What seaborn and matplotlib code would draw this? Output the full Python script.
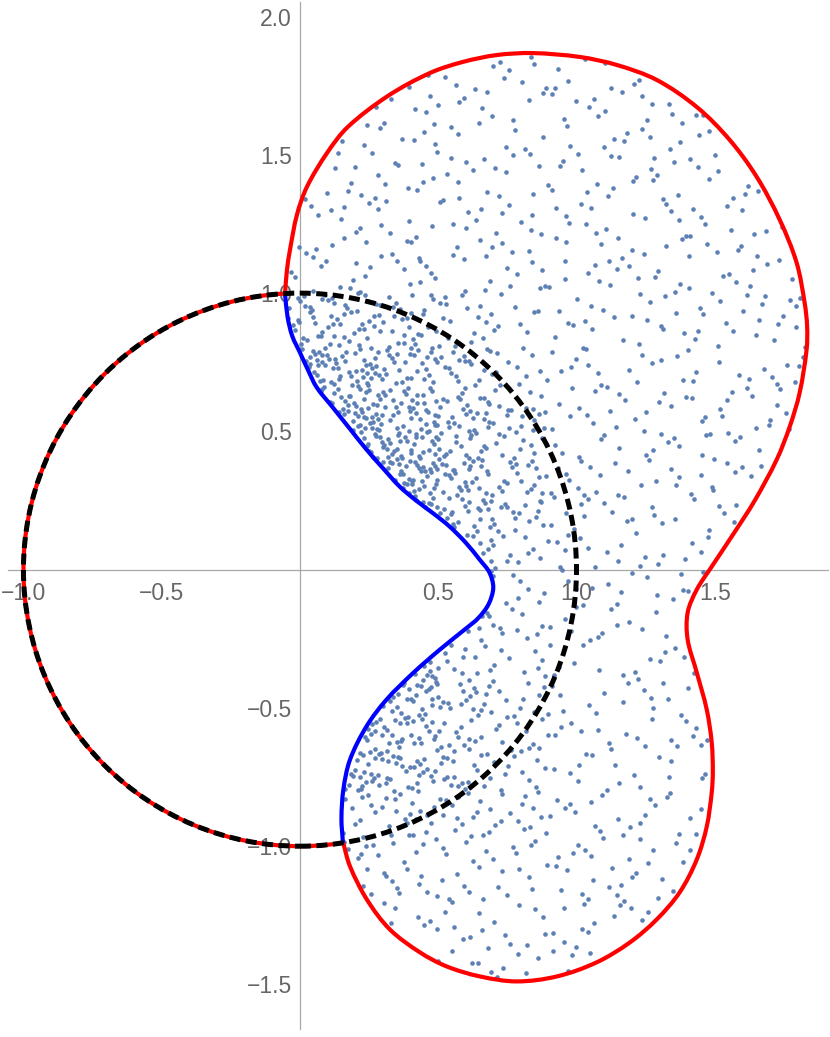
import numpy as np
import pandas as pd
import matplotlib
matplotlib.use("Agg")
import matplotlib.pyplot as plt
from matplotlib.patches import Circle, Arc, PathPatch
from matplotlib.path import Path
from matplotlib.ticker import FixedLocator, FixedFormatter, MultipleLocator
import seaborn as sns

# ---------------- data ----------------
# outer (red) boundary, from the top junction clockwise to the bottom junction
RED_X = [-0.054, -0.047, -0.036, -0.011, 0.025, 0.098, 0.173, 0.318, 0.470, 0.589,
         0.712, 0.842, 1.012, 1.146, 1.290, 1.435, 1.554, 1.652, 1.735, 1.796,
         1.825, 1.834, 1.832, 1.807, 1.771, 1.724, 1.644, 1.568, 1.489, 1.435,
         1.402, 1.402, 1.435, 1.471, 1.489, 1.493, 1.489, 1.471, 1.435, 1.373,
         1.290, 1.193, 1.073, 0.929, 0.784, 0.651, 0.531, 0.434, 0.325, 0.242,
         0.181, 0.155]
RED_Y = [0.998, 1.084, 1.157, 1.283, 1.384, 1.507, 1.601, 1.713, 1.796, 1.836,
         1.861, 1.868, 1.854, 1.825, 1.771, 1.673, 1.554, 1.420, 1.265, 1.110,
         0.965, 0.880, 0.795, 0.640, 0.517, 0.398, 0.249, 0.130, 0.011, -0.072,
         -0.155, -0.253, -0.372, -0.506, -0.625, -0.730, -0.806, -0.929, -1.048, -1.167,
         -1.265, -1.348, -1.420, -1.471, -1.489, -1.471, -1.435, -1.384, -1.301, -1.193,
         -1.073, -0.983]

# inner (blue) boundary, from the top junction down to the bottom junction
BLUE_X = [-0.054, -0.045, -0.028, 0.000, 0.030, 0.060, 0.120, 0.180, 0.240, 0.300,
          0.360, 0.420, 0.480, 0.540, 0.600, 0.650, 0.685, 0.699, 0.682, 0.645,
          0.600, 0.506, 0.410, 0.313, 0.241, 0.181, 0.157, 0.150, 0.155]
BLUE_Y = [0.998, 0.915, 0.845, 0.785, 0.720, 0.660, 0.585, 0.510, 0.435, 0.367,
          0.301, 0.250, 0.205, 0.157, 0.097, 0.036, -0.010, -0.065, -0.125, -0.175,
          -0.213, -0.289, -0.373, -0.470, -0.566, -0.687, -0.795, -0.900, -0.983]

# unit circle; the part from the top to the bottom junction (through the left) is red
CIRCLE_RADIUS = 1.0
ARC_START_DEG = 93.1
ARC_END_DEG = 279.0

# density of the sample points (points per unit area), 0.2 x 0.2 cells
DENS_X_EDGES = [-0.1, 0.1, 0.3, 0.5, 0.7, 0.9, 1.1, 1.3, 1.5, 1.7, 1.9]
DENS_Y_EDGES = [2.0, 1.8, 1.6, 1.4, 1.2, 1.0, 0.8, 0.6, 0.4, 0.2, 0.0,
                -0.2, -0.4, -0.6, -0.8, -1.0, -1.2, -1.4, -1.6]
DENSITY = [
    [220, 220, 220, 220, 220, 220, 220, 220, 220, 220],
    [220, 220, 220, 220, 220, 220, 220, 220, 220, 220],
    [230, 230, 220, 220, 220, 220, 220, 220, 220, 220],
    [250, 250, 240, 230, 230, 220, 220, 220, 220, 220],
    [290, 290, 280, 270, 240, 230, 230, 220, 220, 220],
    [900, 850, 700, 360, 260, 240, 230, 230, 230, 230],
    [1800, 1300, 950, 680, 320, 240, 230, 230, 230, 230],
    [2000, 2000, 1400, 950, 650, 260, 230, 230, 230, 230],
    [1900, 1900, 1700, 1100, 750, 350, 220, 220, 220, 220],
    [1600, 1600, 1600, 850, 450, 250, 210, 210, 210, 210],
    [550, 550, 550, 550, 280, 220, 190, 190, 190, 190],
    [1100, 1100, 1100, 480, 300, 210, 190, 190, 190, 190],
    [1400, 1400, 1050, 650, 400, 220, 200, 200, 200, 200],
    [1200, 1200, 900, 600, 420, 240, 210, 210, 210, 210],
    [550, 550, 500, 450, 380, 260, 230, 230, 230, 230],
    [300, 300, 290, 270, 260, 250, 240, 230, 230, 230],
    [240, 240, 240, 240, 240, 240, 230, 230, 230, 230],
    [220, 220, 220, 220, 220, 220, 220, 220, 220, 220],
]

XTICKS = [-1.0, -0.5, 0.5, 1.0, 1.5]
XTICK_LABELS = ["\u22121.0", "\u22120.5", "0.5", "1.0", "1.5"]
YTICKS = [-1.5, -1.0, -0.5, 0.5, 1.0, 1.5, 2.0]
YTICK_LABELS = ["\u22121.5", "\u22121.0", "\u22120.5", "0.5", "1.0", "1.5", "2.0"]

# ---------------- sample cloud: quasi-uniform (Halton) placement following DENSITY ----------------
def van_der_corput(n, base):
    k = np.arange(1, n + 1)
    out = np.zeros(n)
    f = 1.0 / base
    while np.any(k > 0):
        out += f * (k % base)
        k //= base
        f /= base
    return out

dens = np.array(DENSITY, dtype=float)
xe = np.array(DENS_X_EDGES)
ye = np.array(DENS_Y_EDGES)
dmax = dens.max()
n_cand = int(round(dmax * (xe[-1] - xe[0]) * (ye[0] - ye[-1])))
hx = van_der_corput(n_cand, 2)
hy = van_der_corput(n_cand, 3)
hu = van_der_corput(n_cand, 5)
px = xe[0] + hx * (xe[-1] - xe[0])
py = ye[-1] + hy * (ye[0] - ye[-1])
ci = np.clip(np.searchsorted(xe, px) - 1, 0, len(xe) - 2)
ri = np.clip(np.searchsorted(-ye, -py) - 1, 0, len(ye) - 2)
keep = hu < dens[ri, ci] / dmax
region = Path(np.column_stack([RED_X + BLUE_X[::-1][1:], RED_Y + BLUE_Y[::-1][1:]]))
keep &= region.contains_points(np.column_stack([px, py]))
pts = pd.DataFrame({"x": px[keep], "y": py[keep]})


def smooth_path(xs, ys):
    """Smooth cubic Bezier path through the read points (chord-length tangents)."""
    P = np.column_stack([xs, ys]).astype(float)
    n = len(P)
    d = np.linalg.norm(np.diff(P, axis=0), axis=1)
    m = np.zeros_like(P)
    m[0] = (P[1] - P[0]) / d[0]
    m[-1] = (P[-1] - P[-2]) / d[-1]
    for i in range(1, n - 1):
        m[i] = (P[i + 1] - P[i - 1]) / (d[i - 1] + d[i])
    verts = [P[0]]
    codes = [Path.MOVETO]
    for i in range(n - 1):
        verts += [P[i] + m[i] * d[i] / 3.0, P[i + 1] - m[i + 1] * d[i] / 3.0, P[i + 1]]
        codes += [Path.CURVE4] * 3
    return Path(verts, codes)


# ---------------- figure ----------------
sns.set_style("white")
plt.rcParams["font.family"] = ["Liberation Sans", "DejaVu Sans"]

fig = plt.figure(figsize=(8.30, 10.37), dpi=100)
ax = fig.add_axes([0, 0, 1, 1])
ax.set_facecolor("white")

sns.scatterplot(data=pts, x="x", y="y", ax=ax, s=11, color="#5E81B5",
                linewidth=0, zorder=2, legend=False)

ax.add_patch(PathPatch(smooth_path(RED_X, RED_Y), fill=False, edgecolor="#FF0000",
                       linewidth=3.0, capstyle="round", joinstyle="round", zorder=3))
ax.add_patch(PathPatch(smooth_path(BLUE_X, BLUE_Y), fill=False, edgecolor="#0000FF",
                       linewidth=3.0, capstyle="round", joinstyle="round", zorder=3))
ax.add_patch(Arc((0, 0), 2 * CIRCLE_RADIUS, 2 * CIRCLE_RADIUS, theta1=ARC_START_DEG,
                 theta2=ARC_END_DEG, color="#FF0000", linewidth=3.0, zorder=3))
ax.add_patch(Circle((0, 0), CIRCLE_RADIUS, fill=False, edgecolor="black",
                    linewidth=3.6, linestyle=(0, (2.2, 1.1)), capstyle="butt", zorder=4))

ax.set_xlim(-1.084, 1.916)
ax.set_ylim(-1.69, 2.06)
ax.set_aspect("equal", adjustable="box")
ax.set_xlabel("")
ax.set_ylabel("")

axis_col = "#a8a8a8"
for side in ("top", "right"):
    ax.spines[side].set_visible(False)
ax.spines["left"].set_position(("data", 0))
ax.spines["bottom"].set_position(("data", 0))
ax.spines["bottom"].set_bounds(-1.055, 1.908)
ax.spines["left"].set_bounds(-1.66, 2.053)
for side in ("left", "bottom"):
    ax.spines[side].set_color(axis_col)
    ax.spines[side].set_linewidth(0.9)
    ax.spines[side].set_zorder(1.5)

ax.xaxis.set_major_locator(FixedLocator(XTICKS))
ax.xaxis.set_major_formatter(FixedFormatter(XTICK_LABELS))
ax.yaxis.set_major_locator(FixedLocator(YTICKS))
ax.yaxis.set_major_formatter(FixedFormatter(YTICK_LABELS))
ax.xaxis.set_minor_locator(MultipleLocator(0.1))
ax.yaxis.set_minor_locator(MultipleLocator(0.1))

ax.tick_params(axis="x", which="major", direction="in", length=6.0, width=0.8,
               color=axis_col, labelcolor="#666666", labelsize=16.5, pad=9)
ax.tick_params(axis="y", which="major", direction="in", length=7.0, width=0.8,
               color=axis_col, labelcolor="#666666", labelsize=16.5, pad=6)
ax.tick_params(which="minor", direction="in", length=4.0, width=0.8, color=axis_col)

fig.savefig("out.png", dpi=100, facecolor="white")
